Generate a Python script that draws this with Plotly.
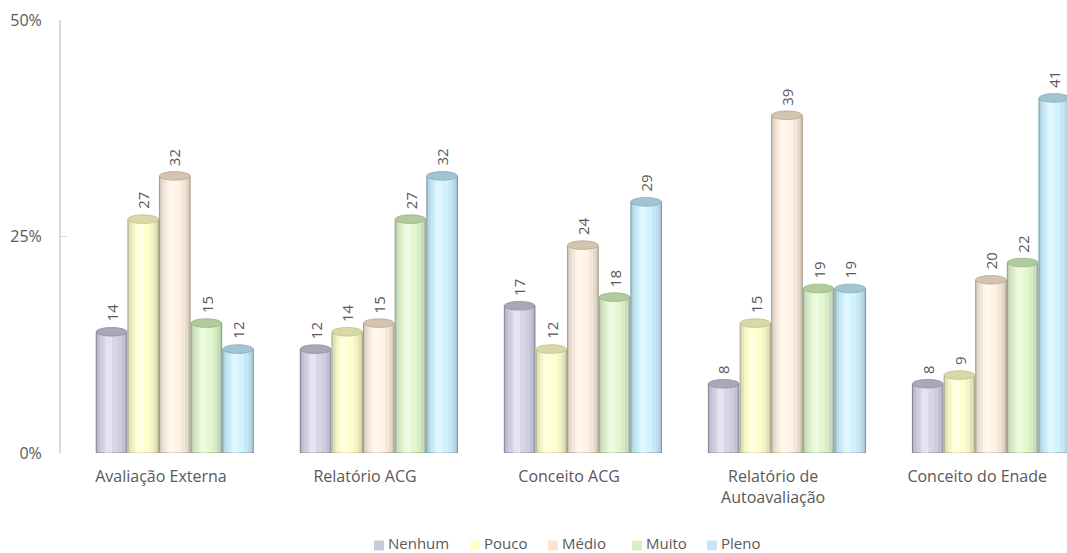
import plotly.graph_objects as go

categories = ["Avaliação Externa", "Relatório ACG", "Conceito ACG",
              "Relatório de<br>Autoavaliação", "Conceito do Enade"]
series_names = ["Nenhum", "Pouco", "Médio", "Muito", "Pleno"]
nenhum = [14, 12, 17, 8, 8]
pouco = [27, 14, 12, 15, 9]
medio = [32, 15, 24, 39, 20]
muito = [15, 27, 18, 19, 22]
pleno = [12, 32, 29, 19, 41]
series_values = [nenhum, pouco, medio, muito, pleno]

fills = ["#D6D6E6", "#FFFFCE", "#FFF2E2", "#E2F7CF", "#CFF2FD"]
edges = ["#8F8FA3", "#C2C28F", "#BBA993", "#98B583", "#86ADBC"]
caps = ["#A8A8BA", "#D8D8A8", "#D3C3AF", "#B2CB9C", "#A0C4D2"]
legend_colors = ["#CACADA", "#FFFFCC", "#FBE5D2", "#D8F0C4", "#C8E6F4"]
text_color = "#595959"
font_family = "Open Sans, sans-serif"

W, H = 1067, 553
M_L, M_R, M_T, M_B = 61, 0, 20, 100

bar_w = 0.155                 # width of one cylinder, in category units
group_w = bar_w * len(series_names)
shift = 0.07                  # cylinders sit slightly right of the tick label
cap_h = 0.5                   # half height of the elliptical caps, in %

# edge shading strips: (fraction of width from edge, rgba)
dark_left = [(0.24, "rgba(70,70,90,0.06)"), (0.13, "rgba(70,70,90,0.08)"),
             (0.05, "rgba(70,70,90,0.12)")]
dark_right = [(0.30, "rgba(70,70,90,0.06)"), (0.16, "rgba(70,70,90,0.09)"),
              (0.06, "rgba(70,70,90,0.14)")]

# legend layout, in page pixels
legend_swatch_px = [374, 470, 548, 632, 707]
legend_y_px = 542.5
swatch_px = 10


def paper_x(px):
    return (px - M_L) / (W - M_L - M_R)


def paper_y(py):
    return (H - M_B - py) / (H - M_T - M_B)


fig = go.Figure()
for k, (name, vals) in enumerate(zip(series_names, series_values)):
    off = shift - group_w / 2 + k * bar_w
    w = bar_w * 0.97
    fig.add_trace(go.Bar(
        name=name, x=categories, y=vals, width=w, offset=off,
        marker=dict(color=fills[k], line=dict(color=edges[k], width=1)),
        hoverinfo="x+y+name",
    ))
    for frac, col in dark_left:
        fig.add_trace(go.Bar(x=categories, y=vals, width=w * frac, offset=off,
                             marker=dict(color=col, line=dict(width=0)),
                             hoverinfo="skip"))
    for frac, col in dark_right:
        fig.add_trace(go.Bar(x=categories, y=vals, width=w * frac,
                             offset=off + w * (1 - frac),
                             marker=dict(color=col, line=dict(width=0)),
                             hoverinfo="skip"))
    fig.add_trace(go.Bar(x=categories, y=vals, width=w * 0.22,
                         offset=off + w * 0.3,
                         marker=dict(color="rgba(255,255,255,0.35)", line=dict(width=0)),
                         hoverinfo="skip"))

    for i, v in enumerate(vals):
        x0 = i + off
        x1 = x0 + w
        # top cap
        fig.add_shape(type="circle", xref="x", yref="y",
                      x0=x0, x1=x1, y0=v - cap_h, y1=v + cap_h,
                      fillcolor=caps[k], line=dict(color=edges[k], width=0.8),
                      layer="above")
        # rounded bottom
        fig.add_shape(type="circle", xref="x", yref="y",
                      x0=x0, x1=x1, y0=-cap_h, y1=cap_h,
                      fillcolor=fills[k], line=dict(color=edges[k], width=0.8),
                      layer="below")
        # value label above the cylinder
        fig.add_annotation(x=(x0 + x1) / 2, y=v, xref="x", yref="y",
                           text=str(v), textangle=-90, showarrow=False,
                           yanchor="bottom", xanchor="center", yshift=8,
                           font=dict(family=font_family, size=15, color=text_color))

    # legend: square swatch + name below the plot
    sx = legend_swatch_px[k]
    fig.add_shape(type="rect", xref="paper", yref="paper",
                  x0=paper_x(sx), x1=paper_x(sx + swatch_px),
                  y0=paper_y(legend_y_px + 3 + swatch_px / 2),
                  y1=paper_y(legend_y_px + 3 - swatch_px / 2),
                  fillcolor=legend_colors[k], line=dict(width=0))
    fig.add_annotation(x=paper_x(sx + swatch_px + 3), y=paper_y(legend_y_px),
                       xref="paper", yref="paper", text=name, showarrow=False,
                       xanchor="left", yanchor="middle", borderpad=0,
                       font=dict(family=font_family, size=15, color=text_color))

fig.update_layout(
    width=W, height=H,
    margin=dict(l=M_L, r=M_R, t=M_T, b=M_B),
    plot_bgcolor="white", paper_bgcolor="white",
    barmode="overlay",
    font=dict(family=font_family, size=16, color=text_color),
    showlegend=False,
)
fig.update_xaxes(type="category", range=[-0.49, 4.44], showline=False, ticks="",
                 showgrid=False, ticklabelstandoff=12,
                 tickfont=dict(size=16, color=text_color))
fig.update_yaxes(range=[0, 50], tickvals=[0, 25, 50],
                 ticktext=["0%", "25%", "50%"],
                 showgrid=False, zeroline=False, showline=True,
                 linecolor="#D9D9E6", linewidth=2, ticks="inside",
                 tickcolor="#D9D9E6", ticklen=6, ticklabelstandoff=14,
                 tickfont=dict(size=16, color=text_color))

fig.write_html("out.html")
